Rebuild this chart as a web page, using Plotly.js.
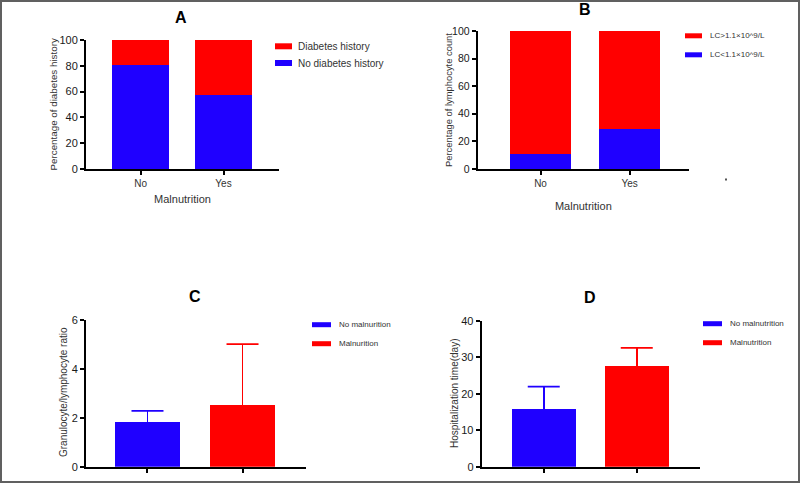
<!DOCTYPE html>
<html><head><meta charset="utf-8">
<script src="https://cdn.plot.ly/plotly-3.0.1.min.js"></script>
<style>html,body{margin:0;padding:0;background:#fff}</style>
</head><body><div id="chart" style="width:800px;height:483px"></div>
<script>
// ---- data ----
const groupsAB = ["No", "Yes"];
const noDiabetesPct = [80.5, 57];
const diabetesPct = [19.5, 43];
const legendA = ["Diabetes history", "No diabetes history"];

const lcLowPct = [11, 29];
const lcHighPct = [89, 71];
const legendB = ["LC>1.1×10^9/L", "LC<1.1×10^9/L"];

const groupsCD = ["No malnutrition", "Malnutrition"];
const glrMean = [1.84, 2.51];
const glrSD = [0.44, 2.50];
const legendC = ["No malnurition", "Malnurition"];

const hospMean = [15.8, 27.7];
const hospSD = [6.2, 4.9];
const legendD = ["No malnutrition", "Malnutrition"];

const panelTitles = ["A", "B", "C", "D"];
const xTitles = ["Malnutrition", "Malnutrition"];
const yTitles = ["Percentage of diabetes history", "Percentage of lymphocyte count",
                 "Granulocyte/lymphocyte ratio", "Hospitalization time(day)"];

// ---- style ----
const BLUE = "#1f00ff", RED = "#ff0000";
const FONT = "Liberation Sans, Arial, sans-serif";
const W = 800, H = 483;
const px = x => x / W;
const py = y => 1 - y / H;
const BW = 0.686;

const traces = [
  {type:"bar", x:groupsAB, y:noDiabetesPct, name:legendA[1], marker:{color:BLUE}, width:BW, xaxis:"x", yaxis:"y"},
  {type:"bar", x:groupsAB, y:diabetesPct, name:legendA[0], marker:{color:RED}, width:BW, xaxis:"x", yaxis:"y"},
  {type:"bar", x:groupsAB, y:lcLowPct, name:legendB[1], marker:{color:BLUE}, width:BW, xaxis:"x2", yaxis:"y2"},
  {type:"bar", x:groupsAB, y:lcHighPct, name:legendB[0], marker:{color:RED}, width:BW, xaxis:"x2", yaxis:"y2"},
];
function meanSdPanel(means, sds, names, xa, ya) {
  [BLUE, RED].forEach((c, i) => {
    // bar with upper SD line (no caps)
    traces.push({type:"bar", x:[groupsCD[i]], y:[means[i]], name:names[i], marker:{color:c}, width:BW,
      error_y:{type:"data", symmetric:false, array:[sds[i]], arrayminus:[0], color:c, thickness:1.8, width:0},
      xaxis:xa, yaxis:ya});
    // cap at the top of the SD line
    traces.push({type:"scatter", mode:"markers", x:[groupsCD[i]], y:[means[i] + sds[i]], marker:{size:0.1, opacity:0},
      error_y:{type:"data", array:[0], color:c, thickness:1.8, width:16}, showlegend:false, hoverinfo:"skip",
      xaxis:xa, yaxis:ya});
  });
}
meanSdPanel(glrMean, glrSD, legendC, "x3", "y3");
meanSdPanel(hospMean, hospSD, legendD, "x4", "y4");

const axBase = {showline:true, linecolor:"#000", linewidth:2, ticks:"outside", ticklen:4, tickwidth:2,
  tickcolor:"#000", showgrid:false, zeroline:false, fixedrange:true,
  tickfont:{family:FONT, size:11, color:"#1a1a1a"}};
const tfont = s => ({family:FONT, size:s, color:"#333"});

const layout = {
  width:W, height:H, margin:{l:0, r:0, t:0, b:0}, showlegend:false, barmode:"stack",
  paper_bgcolor:"#fff", plot_bgcolor:"rgba(0,0,0,0)", bargap:0,
  xaxis:Object.assign({}, axBase, {domain:[px(86), px(279)], anchor:"y", range:[-0.66, 1.67],
    title:{text:xTitles[0], font:tfont(11), standoff:7}, tickfont:{family:FONT, size:10, color:"#333"}}),
  yaxis:Object.assign({}, axBase, {domain:[py(169), py(40)], anchor:"x", range:[0, 100], dtick:20}),
  xaxis2:Object.assign({}, axBase, {domain:[px(477.7), px(689)], anchor:"y2", range:[-0.706, 1.668],
    title:{text:xTitles[1], font:tfont(11), standoff:14}, tickfont:{family:FONT, size:10, color:"#333"}}),
  yaxis2:Object.assign({}, axBase, {domain:[py(169), py(31)], anchor:"x2", range:[0, 100], dtick:20,
    tickfont:{family:FONT, size:10.5, color:"#1a1a1a"}}),
  xaxis3:Object.assign({}, axBase, {domain:[px(86), px(306)], anchor:"y3", range:[-0.647, 1.668], showticklabels:false}),
  yaxis3:Object.assign({}, axBase, {domain:[py(466.7), py(320)], anchor:"x3", range:[0, 6], dtick:2}),
  xaxis4:Object.assign({}, axBase, {domain:[px(481.7), px(700)], anchor:"y4", range:[-0.667, 1.68], showticklabels:false}),
  yaxis4:Object.assign({}, axBase, {domain:[py(466.7), py(321)], anchor:"x4", range:[0, 40], dtick:10}),
  annotations:[], shapes:[]
};

// panel titles
[[181, 17], [585, 9], [195, 296], [590, 297]].forEach((p, i) => {
  layout.annotations.push({xref:"paper", yref:"paper", x:px(p[0]), y:py(p[1]), xanchor:"center", yanchor:"middle",
    text:"<b>" + panelTitles[i] + "</b>", showarrow:false, font:{family:FONT, size:16, color:"#000"}});
});

// y-axis titles
[[53, 104.5, 9.8], [449, 100, 9.4], [63, 392, 10], [454, 393, 10]].forEach((p, i) => {
  layout.annotations.push({xref:"paper", yref:"paper", x:px(p[0]), y:py(p[1]), xanchor:"center", yanchor:"middle",
    textangle:-90, text:yTitles[i], showarrow:false, font:tfont(p[2])});
});

// legends (swatch + label)
function legendItem(x0, x1, yc, h, color, label, tx, size) {
  layout.shapes.push({type:"rect", xref:"paper", yref:"paper", x0:px(x0), x1:px(x1), y0:py(yc + h/2), y1:py(yc - h/2),
    fillcolor:color, line:{width:0}});
  layout.annotations.push({xref:"paper", yref:"paper", x:px(tx), y:py(yc), xanchor:"left", yanchor:"middle",
    text:label, showarrow:false, font:{family:FONT, size:size, color:"#333"}});
}
legendItem(275, 292, 46.3, 6, RED, legendA[0], 296, 10);
legendItem(275, 292, 63, 6, BLUE, legendA[1], 296, 10);
legendItem(685, 702, 35.8, 5, RED, legendB[0], 708, 8);
legendItem(685, 702, 54.8, 5, BLUE, legendB[1], 708, 8);
legendItem(312, 331, 324.7, 5, BLUE, legendC[0], 337, 8);
legendItem(312, 331, 343.7, 5, RED, legendC[1], 337, 8);
legendItem(703, 722, 323.7, 5, BLUE, legendD[0], 728, 8);
legendItem(703, 722, 342.7, 5, RED, legendD[1], 728, 8);

// stray dot and outer frame
layout.shapes.push({type:"rect", xref:"paper", yref:"paper", x0:px(725), x1:px(727), y0:py(180.5), y1:py(178.5),
  fillcolor:"#555", line:{width:0}});
layout.shapes.push({type:"rect", xref:"paper", yref:"paper", x0:px(1), x1:px(799), y0:py(482), y1:py(1),
  line:{color:"#606060", width:2}, fillcolor:"rgba(0,0,0,0)"});

Plotly.newPlot("chart", traces, layout, {displayModeBar:false, staticPlot:true});
</script>
</body></html>
